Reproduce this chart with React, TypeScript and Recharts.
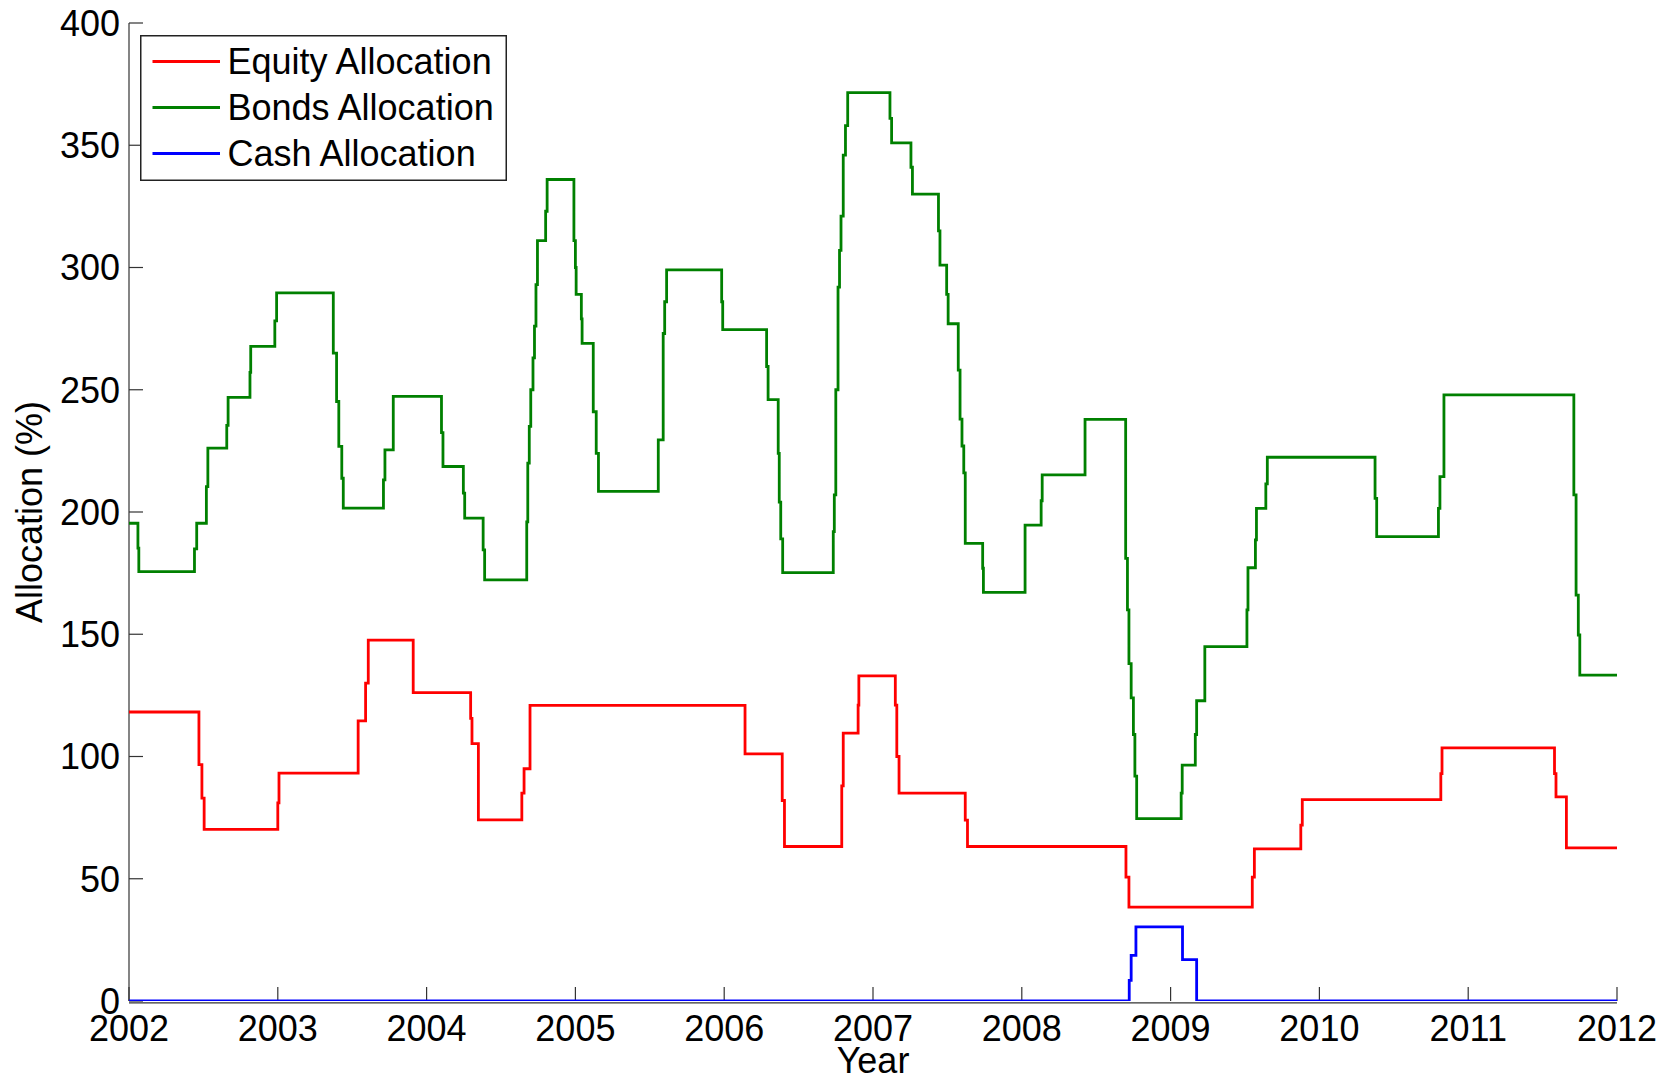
import React from 'react';
import { LineChart, Line, XAxis, YAxis, Legend } from 'recharts';

// ---------- data ----------
const yearTicks = [2002, 2003, 2004, 2005, 2006, 2007, 2008, 2009, 2010, 2011, 2012];
const allocationTicks = [0, 50, 100, 150, 200, 250, 300, 350, 400];

const seriesNames = ['Equity Allocation', 'Bonds Allocation', 'Cash Allocation'];
const seriesColors = ['#ff0000', '#008000', '#0000ff'];

const equityYears = [
  2002.0, 2002.47, 2002.49, 2002.505, 2003.0, 2003.008, 2003.54, 2003.59, 2003.608, 2003.91,
  2004.296, 2004.305, 2004.348, 2004.64, 2004.655, 2004.695, 2006.14, 2006.39, 2006.405, 2006.79,
  2006.8, 2006.9, 2006.905, 2007.15, 2007.16, 2007.175, 2007.62, 2007.635, 2008.7, 2008.72,
  2009.549, 2009.563, 2009.875, 2009.885, 2010.816, 2010.824, 2011.58, 2011.59, 2011.66, 2012.0,
];
const equityValues = [
  118.2, 96.7, 83, 70.2, 81, 93.2, 114.6, 130, 147.6, 126.1,
  115.6, 105.3, 74.1, 85, 95, 120.9, 101.1, 82, 63.2, 88,
  109.6, 121, 133, 121, 100, 85, 74, 63.2, 50.7, 38.4,
  50.7, 62.2, 71.9, 82.4, 93, 103.5, 93, 83.5, 62.6, 62.6,
];

const bondsYears = [
  2002.0, 2002.06, 2002.066, 2002.44, 2002.455, 2002.52, 2002.53, 2002.657, 2002.666, 2002.813,
  2002.818, 2002.98, 2002.992, 2003.373, 2003.395, 2003.41, 2003.43, 2003.44, 2003.71, 2003.72,
  2003.776, 2004.1, 2004.11, 2004.247, 2004.256, 2004.38, 2004.39, 2004.673, 2004.68, 2004.69,
  2004.7, 2004.715, 2004.725, 2004.735, 2004.745, 2004.8, 2004.81, 2004.99, 2005.0, 2005.005,
  2005.04, 2005.045, 2005.12, 2005.14, 2005.155, 2005.557, 2005.59, 2005.6, 2005.613, 2005.983,
  2005.99, 2006.285, 2006.295, 2006.363, 2006.37, 2006.38, 2006.393, 2006.733, 2006.74, 2006.75,
  2006.765, 2006.775, 2006.785, 2006.8, 2006.815, 2006.83, 2007.114, 2007.125, 2007.255, 2007.265,
  2007.44, 2007.45, 2007.495, 2007.505, 2007.573, 2007.585, 2007.598, 2007.61, 2007.62, 2007.737,
  2007.742, 2008.022, 2008.13, 2008.137, 2008.425, 2008.698, 2008.71, 2008.72, 2008.735, 2008.75,
  2008.76, 2008.772, 2009.071, 2009.078, 2009.166, 2009.175, 2009.23, 2009.513, 2009.52, 2009.57,
  2009.577, 2009.64, 2009.65, 2010.374, 2010.385, 2010.8, 2010.81, 2010.837, 2011.71, 2011.725,
  2011.74, 2011.75, 2012.0,
];
const bondsValues = [
  195.4, 185.2, 175.6, 184.9, 195.4, 210.4, 226.1, 235.4, 246.9, 257.1,
  267.7, 278.2, 289.6, 265, 245.2, 226.8, 213.8, 201.6, 213.1, 225.4,
  247.3, 232.5, 218.6, 207.7, 197.5, 184.5, 172.2, 196, 220, 235,
  250, 263, 276, 293, 311, 323, 336, 311, 300, 289,
  279, 269, 241, 224, 208.4, 229.5, 273, 286, 299, 286,
  274.6, 259.5, 246, 224, 204, 189, 175.2, 192, 207, 250,
  292, 307, 321, 346, 358, 371.5, 361, 351, 341, 330,
  315, 301, 289, 277, 258, 238, 227, 216, 187.2, 177,
  167.1, 194.6, 204.6, 215.2, 237.9, 181, 160, 138, 124, 109,
  92, 74.6, 85, 96.5, 109, 122.8, 144.9, 160, 177.2, 188.6,
  201.5, 211.5, 222.4, 205.6, 189.9, 201.5, 214.5, 247.9, 207, 166,
  149.7, 133.3, 133.3,
];

const cashYears = [2002.0, 2008.722, 2008.735, 2008.767, 2009.08, 2009.175, 2012.0];
const cashValues = [0, 8.4, 18.7, 30.3, 16.9, 0, 0];

const toRows = (xs: number[], ys: number[]) => xs.map((x, i) => ({ year: x, value: ys[i] }));
const equityData = toRows(equityYears, equityValues);
const bondsData = toRows(bondsYears, bondsValues);
const cashData = toRows(cashYears, cashValues);

// ---------- styling ----------
const FONT = '"Liberation Sans", Arial, Helvetica, sans-serif';
const FS = 36;
const AXIS = '#333333';
const AXW = 1.2;

const LegendBox = () => (
  <svg width={367} height={146} style={{ display: 'block' }}>
    <rect x={0.75} y={0.75} width={365.5} height={144.5} fill="#ffffff" stroke="#222222" strokeWidth={1.5} />
    {seriesNames.map((n, i) => (
      <g key={n}>
        <line x1={12.5} x2={80} y1={26.5 + i * 46} y2={26.5 + i * 46} stroke={seriesColors[i]} strokeWidth={2.8} />
        <text x={87.5} y={39 + i * 46} fontSize={FS} fontFamily={FONT} fill="#000000">
          {n}
        </text>
      </g>
    ))}
  </svg>
);

const YTitle = (props: any) => {
  const vb = props.viewBox || { x: 0, y: 23, width: 129, height: 978 };
  const cx = 42;
  const cy = vb.y + vb.height / 2;
  return (
    <text
      x={cx}
      y={cy}
      transform={`rotate(-90 ${cx} ${cy})`}
      textAnchor="middle"
      fontSize={FS}
      fontFamily={FONT}
      fill="#000000"
    >
      Allocation (%)
    </text>
  );
};

const XTitle = (props: any) => {
  const vb = props.viewBox || { x: 129, y: 1001, width: 1488, height: 80 };
  return (
    <text x={vb.x + vb.width / 2} y={1073} textAnchor="middle" fontSize={FS} fontFamily={FONT} fill="#000000">
      Year
    </text>
  );
};

const tickStyle = { fontSize: FS, fontFamily: FONT, fill: '#000000' };

const lineCommon = {
  xAxisId: 'main',
  yAxisId: 'main',
  dataKey: 'value',
  type: 'stepAfter' as const,
  strokeWidth: 2.8,
  dot: false,
  activeDot: false,
  isAnimationActive: false,
  zIndex: 600,
};

export default function App() {
  return (
    <div style={{ position: 'absolute', left: 0, top: 0, width: 1669, height: 1081, background: '#ffffff' }}>
      <LineChart width={1669} height={1081} margin={{ top: 23, right: 52, bottom: 0, left: 0 }}>
        <XAxis
          xAxisId="main"
          dataKey="year"
          type="number"
          domain={[2002, 2012]}
          ticks={yearTicks}
          interval={0}
          allowDataOverflow
          height={80}
          tickSize={-14}
          tickMargin={28.4}
          tick={tickStyle}
          axisLine={{ stroke: AXIS, strokeWidth: AXW, transform: 'translate(0, 1.9)' }}
          tickLine={{ stroke: AXIS, strokeWidth: AXW }}
          label={{ content: XTitle }}
        />
        <XAxis
          xAxisId="top"
          orientation="top"
          dataKey="year"
          type="number"
          domain={[2002, 2012]}
          ticks={yearTicks}
          interval={0}
          allowDataOverflow
          height={0}
          tickSize={-14}
          tickFormatter={() => ''}
          axisLine={{ stroke: AXIS, strokeWidth: AXW }}
          tickLine={{ stroke: AXIS, strokeWidth: AXW }}
        />
        <YAxis
          yAxisId="main"
          type="number"
          domain={[0, 400]}
          ticks={allocationTicks}
          interval={0}
          allowDataOverflow
          width={129}
          tickSize={-14}
          tickMargin={23}
          tick={tickStyle}
          axisLine={{ stroke: AXIS, strokeWidth: AXW }}
          tickLine={{ stroke: AXIS, strokeWidth: AXW }}
          label={{ content: YTitle }}
        />
        <YAxis
          yAxisId="right"
          orientation="right"
          type="number"
          domain={[0, 400]}
          ticks={allocationTicks}
          interval={0}
          allowDataOverflow
          width={0}
          tickSize={-14}
          tickFormatter={() => ''}
          axisLine={{ stroke: AXIS, strokeWidth: AXW }}
          tickLine={{ stroke: AXIS, strokeWidth: AXW }}
        />
        <Line {...lineCommon} data={bondsData} name={seriesNames[1]} stroke={seriesColors[1]} />
        <Line {...lineCommon} data={equityData} name={seriesNames[0]} stroke={seriesColors[0]} />
        <Line {...lineCommon} data={cashData} name={seriesNames[2]} stroke={seriesColors[2]} />
        <Legend
          layout="horizontal"
          verticalAlign="middle"
          align="center"
          content={() => <LegendBox />}
          wrapperStyle={{ left: 140, top: 35, width: 367, height: 146 }}
        />
      </LineChart>
    </div>
  );
}
